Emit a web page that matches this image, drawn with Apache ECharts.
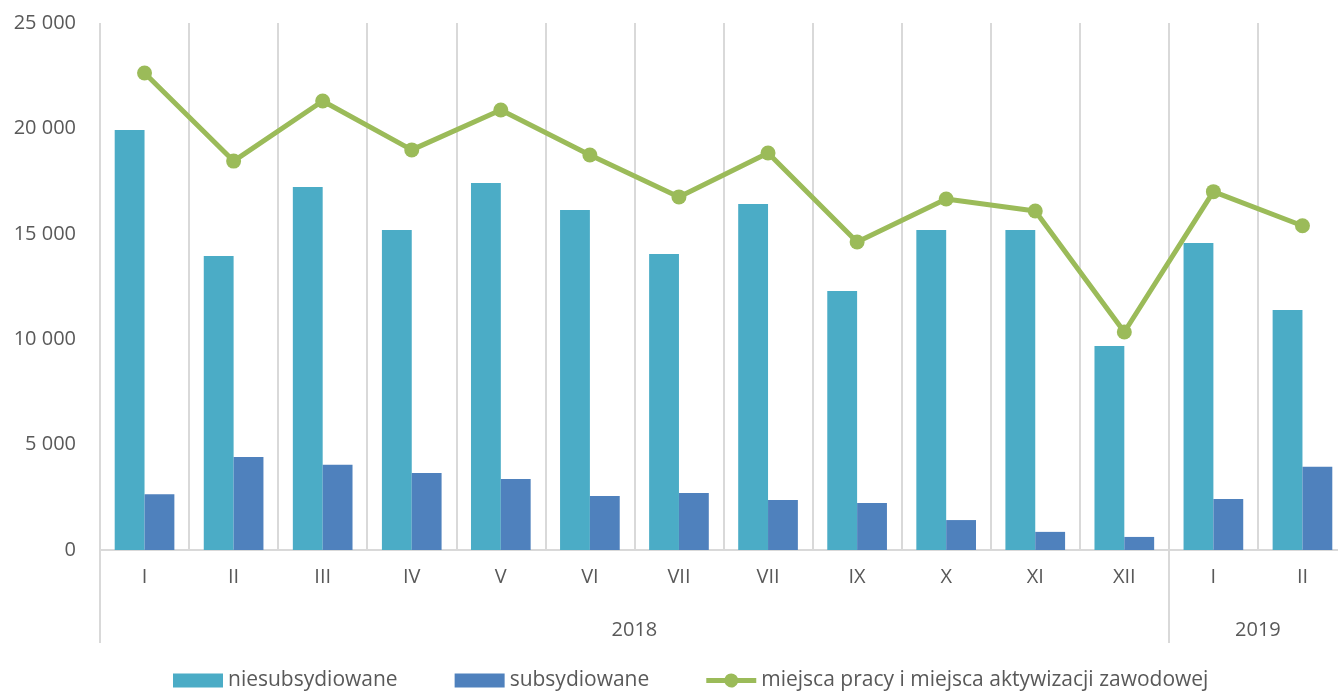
<!DOCTYPE html>
<html>
<head>
<meta charset="utf-8">
<script src="https://cdn.jsdelivr.net/npm/echarts@6/dist/echarts.min.js"></script>
<style>
  html, body { margin: 0; padding: 0; background: #fff; }
  #chart { width: 1338px; height: 691px; }
</style>
</head>
<body>
<div id="chart"></div>
<script>
// miesiace
var months = ['I', 'II', 'III', 'IV', 'V', 'VI', 'VII', 'VII', 'IX', 'X', 'XI', 'XII', 'I', 'II'];
// lata (os pomocnicza, 15 punktow granic)
var yearLabels = ['', '', '', '', '', '', '2018', '', '', '', '', '', '', '2019', ''];
var yearBounds = [0, 12, 14];

var niesubsydiowane = [19920, 13950, 17220, 15180, 17410, 16130, 14040, 16410, 12290, 15180, 15180, 9680, 14560, 11390];
var subsydiowane = [2640, 4410, 4050, 3650, 3370, 2560, 2700, 2370, 2230, 1420, 860, 620, 2420, 3950];
var miejscaPracy = [22630, 18450, 21300, 18980, 20870, 18740, 16750, 18830, 14610, 16650, 16080, 10340, 17000, 15380];

var txt = '#595959';
var font = 'Open Sans';
var fs = 20;
// ikona legendy: linia z kolkiem
var lineIcon = 'path://M0,4.5H18.46A7,7 0 0 1 31.54,4.5H50V9.5H31.54A7,7 0 0 1 18.46,9.5H0Z';

function fmt(v) {
    return String(v).replace(/\B(?=(\d{3})+(?!\d))/g, ' ');
}

var myChart = echarts.init(document.getElementById('chart'));
var option = {
    animation: false,
    textStyle: { fontFamily: font },
    grid: { left: 100, right: -9, top: 23, bottom: 141, outerBoundsMode: 'none' },
    legend: {
        bottom: -5,
        left: 168,
        itemWidth: 50,
        itemHeight: 14,
        itemGap: 57,
        textStyle: { fontSize: 21, color: txt, fontFamily: font },
        data: [
            { name: 'niesubsydiowane', icon: 'rect' },
            { name: 'subsydiowane', icon: 'rect' },
            { name: 'miejsca pracy i miejsca aktywizacji zawodowej', icon: lineIcon, itemStyle: { color: '#9bbb59' } }
        ]
    },
    xAxis: [{
        type: 'category',
        data: months,
        axisLine: { show: true, lineStyle: { color: '#d9d9d9', width: 2 } },
        axisTick: { show: false },
        axisLabel: { color: txt, fontSize: fs, margin: 17 },
        splitLine: { show: true, lineStyle: { color: '#d9d9d9', width: 2 } }
    }, {
        type: 'category',
        data: yearLabels,
        boundaryGap: false,
        position: 'bottom',
        offset: 93,
        axisLine: { show: false },
        axisTick: {
            show: true,
            inside: true,
            length: 93,
            interval: function (index) { return yearBounds.indexOf(index) >= 0; },
            lineStyle: { color: '#d9d9d9', width: 2 }
        },
        axisLabel: {
            inside: true,
            interval: 0,
            margin: 3,
            color: txt,
            fontSize: fs
        },
        splitLine: { show: false }
    }],
    yAxis: {
        type: 'value',
        min: 0,
        max: 25000,
        interval: 5000,
        axisLine: { show: false },
        axisTick: { show: false },
        splitLine: { show: false },
        axisLabel: {
            color: txt,
            fontSize: fs,
            margin: 24,
            formatter: fmt
        }
    },
    series: [{
        name: 'niesubsydiowane',
        type: 'bar',
        data: niesubsydiowane,
        barGap: '0%',
        barCategoryGap: '33%',
        itemStyle: { color: '#4bacc6' }
    }, {
        name: 'subsydiowane',
        type: 'bar',
        data: subsydiowane,
        itemStyle: { color: '#4f81bd' }
    }, {
        name: 'miejsca pracy i miejsca aktywizacji zawodowej',
        type: 'line',
        data: miejscaPracy,
        symbol: 'circle',
        symbolSize: 15,
        lineStyle: { color: '#9bbb59', width: 5 },
        itemStyle: { color: '#9bbb59' },
        z: 5
    }]
};
myChart.setOption(option);
</script>
</body>
</html>
